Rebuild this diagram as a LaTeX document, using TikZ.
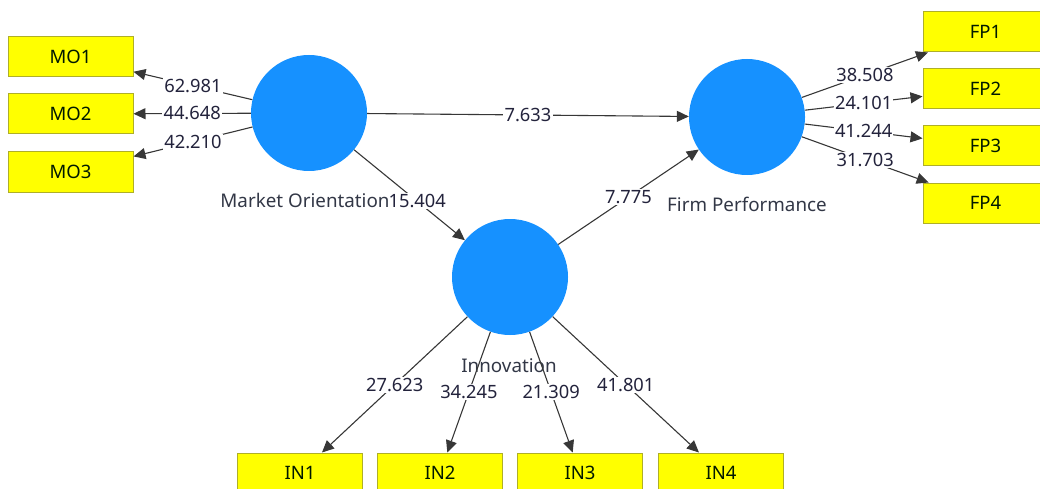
\documentclass[tikz,border=0pt]{standalone}
\usepackage{fontspec}
\setmainfont{Noto Sans}
\usetikzlibrary{arrows.meta}
\definecolor{circfill}{RGB}{22,145,255}
\definecolor{boxfill}{RGB}{255,255,0}
\definecolor{boxline}{RGB}{175,175,40}
\definecolor{numcol}{RGB}{35,35,60}
\definecolor{labcol}{RGB}{50,55,70}
\definecolor{linecol}{RGB}{55,55,55}
\tikzset{
  ind/.style={draw=boxline, line width=1pt, fill=boxfill, minimum width=125pt, minimum height=40pt, inner sep=0pt, font=\fontsize{18.5}{21}\selectfont, text=black!90!green},
  lv/.style={circle, fill=circfill, draw=none, minimum size=116pt, inner sep=0pt},
  lvlabel/.style={font=\fontsize{18.8}{21}\selectfont, text=labcol},
  edge/.style={draw=linecol, line width=1.1pt, -{Triangle[length=12pt,width=11pt]}},
  lbl/.style={fill=white, inner sep=1.2pt, font=\fontsize{18.3}{21}\selectfont, text=numcol}
}
\begin{document}
\begin{tikzpicture}[x=1pt,y=-1pt]
\useasboundingbox (0,0) rectangle (1040,489);
\clip (0,0) rectangle (1040,489);
% indicators
\node[ind] (mo1) at (70.5,57) {MO1};
\node[ind] (mo2) at (70.5,114) {MO2};
\node[ind] (mo3) at (70.5,172) {MO3};
\node[ind] (fp1) at (985.5,32) {FP1};
\node[ind] (fp2) at (985.5,89) {FP2};
\node[ind] (fp3) at (985.5,146) {FP3};
\node[ind] (fp4) at (985.5,203) {FP4};
\node[ind] (in1) at (300,473) {IN1};
\node[ind] (in2) at (440,473) {IN2};
\node[ind] (in3) at (580,473) {IN3};
\node[ind] (in4) at (721,473) {IN4};
% latent variables
\node[lv] (mo) at (309,113) {};
\node[lv] (fp) at (747,117) {};
\node[lv] (inn) at (510,277) {};
% labels of latent variables
\node[lvlabel] (fplab) at (747,204) {Firm Performance};
\node[lvlabel] (innlab) at (509,366) {Innovation};
% outer model
\draw[edge] (mo) -- node[lbl] {62.981} (mo1);
\draw[edge] (mo) -- node[lbl] {44.648} (mo2);
\draw[edge] (mo) -- node[lbl] {42.210} (mo3);
\draw[edge] (fp) -- node[lbl] {38.508} (fp1);
\draw[edge] (fp) -- node[lbl] {24.101} (fp2);
\draw[edge] (fp) -- node[lbl] {41.244} (fp3);
\draw[edge] (fp) -- node[lbl] {31.703} (fp4);
\draw[edge] (inn) -- node[lbl] {27.623} (in1);
\draw[edge] (inn) -- node[lbl] {34.245} (in2);
\draw[edge] (inn) -- node[lbl] {21.309} (in3);
\draw[edge] (inn) -- node[lbl] {41.801} (in4);
% inner model
\draw[edge] (mo) -- node[lbl] {7.633} (fp);
\draw[edge] (mo) -- node[lbl, pos=0.57] {15.404} (inn);
\draw[edge] (inn) -- node[lbl] {7.775} (fp);
\node[lvlabel] (molab) at (305,200) {Market Orientation};
\end{tikzpicture}
\end{document}
